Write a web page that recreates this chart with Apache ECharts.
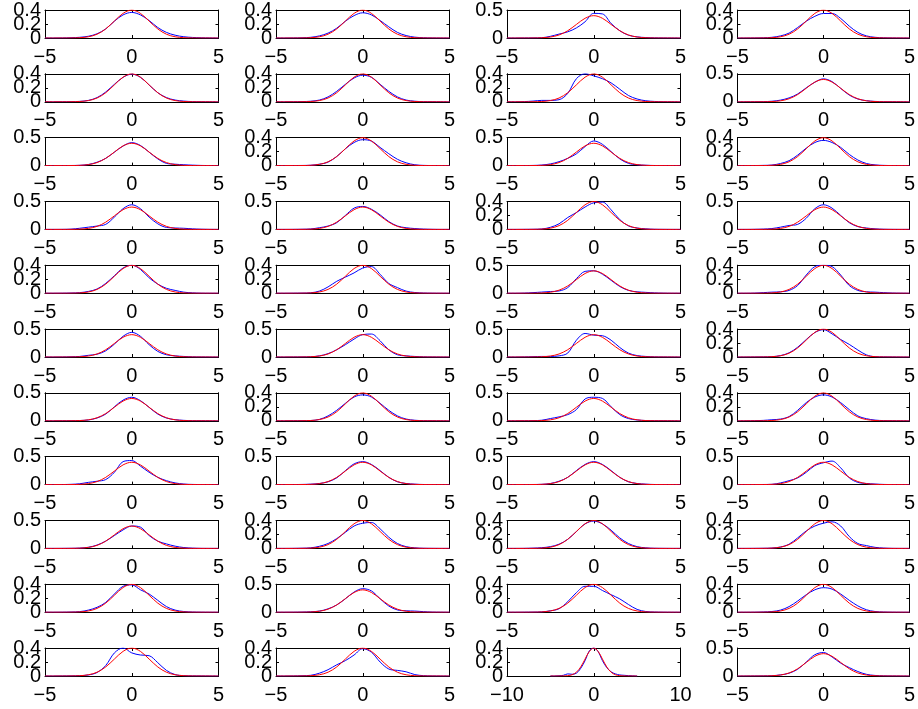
<!DOCTYPE html>
<html><head><meta charset="utf-8">
<script src="https://cdn.jsdelivr.net/npm/echarts@6/dist/echarts.min.js"></script>
<style>html,body{margin:0;padding:0;background:#fff}#c{width:918px;height:709px}</style>
</head><body><div id="c"></div><script>
// evaluation grid for every curve
const xGrid = [-5,-4.5,-4,-3.5,-3,-2.5,-2,-1.5,-1,-0.5,0,0.5,1,1.5,2,2.5,3,3.5,4,4.5,5];
// red reference density (same in each panel)
const redPdf = [0,0,0.0001,0.0009,0.0044,0.0175,0.054,0.1295,0.242,0.352,0.399,0.352,0.242,0.1295,0.054,0.0175,0.0044,0.0009,0.0001,0,0];
// blue estimated densities, one row of panels per array (4 columns)
const blueRow1 = [
 [0,0,0.001,0.004,0.01,0.025,0.06,0.13,0.24,0.33,0.365,0.33,0.25,0.15,0.08,0.04,0.018,0.008,0.003,0.001,0],
 [0,0,0.001,0.003,0.01,0.03,0.07,0.14,0.24,0.32,0.36,0.33,0.25,0.16,0.08,0.035,0.012,0.004,0.001,0,0],
 [0,0,0.001,0.002,0.005,0.03,0.07,0.11,0.18,0.29,0.44,0.43,0.26,0.13,0.05,0.02,0.008,0.003,0.001,0,0],
 [0,0,0.001,0.003,0.01,0.03,0.07,0.15,0.24,0.31,0.35,0.35,0.28,0.17,0.08,0.03,0.01,0.003,0.001,0,0]];
const blueRow2 = [
 [0,0,0.001,0.002,0.006,0.02,0.06,0.14,0.25,0.35,0.395,0.35,0.24,0.13,0.06,0.025,0.01,0.003,0.001,0,0],
 [0,0,0.001,0.003,0.008,0.025,0.07,0.15,0.25,0.34,0.38,0.35,0.25,0.15,0.07,0.025,0.008,0.002,0.001,0,0],
 [0,0,0.003,0.01,0.02,0.02,0.03,0.12,0.33,0.40,0.37,0.33,0.27,0.18,0.09,0.04,0.015,0.005,0.001,0,0],
 [0,0,0.001,0.003,0.01,0.03,0.07,0.14,0.25,0.35,0.41,0.36,0.24,0.12,0.05,0.02,0.007,0.002,0.001,0,0]];
const blueRow3 = [
 [0,0,0.001,0.002,0.005,0.02,0.06,0.13,0.24,0.35,0.41,0.36,0.24,0.12,0.04,0.025,0.015,0.008,0.003,0.001,0],
 [0,0,0.001,0.002,0.005,0.02,0.05,0.13,0.24,0.33,0.37,0.35,0.26,0.17,0.09,0.04,0.012,0.003,0.001,0,0],
 [0,0,0.001,0.003,0.01,0.03,0.07,0.13,0.21,0.34,0.44,0.38,0.25,0.12,0.04,0.015,0.006,0.002,0.001,0,0],
 [0,0,0.001,0.003,0.008,0.03,0.07,0.15,0.25,0.33,0.36,0.33,0.26,0.16,0.08,0.03,0.01,0.003,0.001,0,0]];
const blueRow4 = [
 [0,0,0.001,0.005,0.02,0.04,0.06,0.09,0.22,0.37,0.44,0.37,0.22,0.10,0.035,0.025,0.02,0.01,0.004,0.001,0],
 [0,0,0.001,0.003,0.008,0.03,0.06,0.12,0.25,0.38,0.41,0.36,0.26,0.14,0.06,0.03,0.015,0.006,0.002,0,0],
 [0,0,0.001,0.002,0.006,0.03,0.08,0.17,0.24,0.32,0.38,0.39,0.28,0.14,0.05,0.02,0.008,0.002,0.001,0,0],
 [0,0,0.002,0.006,0.015,0.04,0.07,0.09,0.20,0.37,0.44,0.38,0.25,0.12,0.05,0.025,0.01,0.003,0.001,0,0]];
const blueRow5 = [
 [0,0,0.001,0.003,0.008,0.025,0.06,0.14,0.25,0.36,0.40,0.34,0.22,0.13,0.07,0.04,0.015,0.005,0.001,0,0],
 [0,0,0.001,0.002,0.006,0.03,0.09,0.17,0.23,0.29,0.36,0.38,0.27,0.14,0.08,0.03,0.01,0.003,0.001,0,0],
 [0,0,0.003,0.01,0.02,0.03,0.04,0.10,0.26,0.39,0.40,0.34,0.23,0.12,0.05,0.025,0.015,0.006,0.002,0,0],
 [0,0,0.002,0.008,0.015,0.02,0.04,0.11,0.26,0.38,0.40,0.38,0.26,0.11,0.04,0.02,0.015,0.008,0.003,0.001,0]];
const blueRow6 = [
 [0,0,0.001,0.004,0.01,0.03,0.05,0.11,0.23,0.37,0.44,0.37,0.22,0.10,0.04,0.02,0.01,0.003,0.001,0,0],
 [0,0,0.001,0.002,0.005,0.02,0.06,0.13,0.22,0.32,0.40,0.41,0.29,0.13,0.04,0.02,0.01,0.003,0.001,0,0],
 [0,0,0.002,0.006,0.01,0.01,0.02,0.07,0.30,0.42,0.39,0.38,0.30,0.17,0.07,0.025,0.01,0.003,0.001,0,0],
 [0,0,0.001,0.002,0.005,0.02,0.06,0.14,0.25,0.35,0.39,0.33,0.25,0.18,0.10,0.03,0.005,0.002,0.001,0,0]];
const blueRow7 = [
 [0,0,0.001,0.002,0.005,0.015,0.05,0.12,0.25,0.37,0.42,0.36,0.24,0.12,0.05,0.02,0.008,0.002,0.001,0,0],
 [0,0,0.001,0.002,0.004,0.02,0.07,0.15,0.25,0.34,0.37,0.34,0.25,0.15,0.07,0.025,0.008,0.002,0.001,0,0],
 [0,0,0.001,0.003,0.01,0.04,0.07,0.11,0.20,0.39,0.42,0.40,0.25,0.11,0.04,0.015,0.005,0.002,0.001,0,0],
 [0,0,0.002,0.006,0.015,0.025,0.06,0.15,0.26,0.34,0.37,0.34,0.26,0.16,0.07,0.03,0.01,0.003,0.001,0,0]];
const blueRow8 = [
 [0,0,0.001,0.005,0.015,0.04,0.06,0.09,0.22,0.41,0.43,0.33,0.22,0.13,0.07,0.03,0.01,0.003,0.001,0,0],
 [0,0,0.001,0.003,0.008,0.02,0.05,0.12,0.25,0.37,0.41,0.36,0.25,0.13,0.05,0.02,0.008,0.002,0.001,0,0],
 [0,0,0.001,0.002,0.005,0.02,0.06,0.13,0.25,0.36,0.41,0.36,0.25,0.13,0.05,0.02,0.008,0.002,0.001,0,0],
 [0,0,0.001,0.002,0.005,0.03,0.07,0.12,0.22,0.34,0.39,0.42,0.30,0.12,0.04,0.02,0.01,0.003,0.001,0,0]];
const blueRow9 = [
 [0,0,0.001,0.002,0.006,0.02,0.06,0.13,0.23,0.33,0.40,0.38,0.23,0.13,0.08,0.04,0.015,0.005,0.001,0,0],
 [0,0,0.001,0.003,0.008,0.03,0.07,0.14,0.23,0.32,0.36,0.37,0.28,0.16,0.07,0.025,0.008,0.002,0.001,0,0],
 [0,0,0.001,0.004,0.01,0.025,0.06,0.13,0.24,0.35,0.39,0.35,0.26,0.15,0.07,0.025,0.008,0.002,0.001,0,0],
 [0,0,0.001,0.002,0.005,0.02,0.06,0.15,0.25,0.32,0.36,0.38,0.32,0.17,0.07,0.04,0.015,0.005,0.001,0,0]];
const blueRow10 = [
 [0,0,0.001,0.003,0.008,0.03,0.07,0.14,0.26,0.37,0.39,0.32,0.26,0.17,0.08,0.03,0.01,0.003,0.001,0,0],
 [0,0,0.001,0.003,0.008,0.02,0.06,0.13,0.24,0.36,0.42,0.38,0.24,0.11,0.04,0.025,0.02,0.01,0.003,0.001,0],
 [0,0,0.001,0.002,0.005,0.02,0.05,0.15,0.28,0.37,0.37,0.31,0.25,0.19,0.11,0.04,0.01,0.003,0.001,0,0],
 [0,0,0.001,0.004,0.01,0.03,0.08,0.16,0.25,0.32,0.35,0.33,0.26,0.17,0.09,0.035,0.01,0.003,0.001,0,0]];
const blueRow11 = [
 [0,0,0.001,0.002,0.005,0.015,0.05,0.15,0.33,0.40,0.33,0.30,0.29,0.19,0.08,0.02,0.005,0.002,0.001,0,0],
 [0,0,0.001,0.004,0.01,0.04,0.09,0.16,0.22,0.30,0.39,0.34,0.20,0.10,0.08,0.06,0.02,0.005,0.001,0,0],
 [0,0,0.003,0.01,0.03,0.025,0.04,0.11,0.22,0.36,0.40,0.35,0.22,0.12,0.06,0.03,0.015,0.01,0.005,0.002,0],
 [0,0,0.001,0.002,0.005,0.02,0.05,0.12,0.25,0.38,0.42,0.34,0.23,0.15,0.08,0.03,0.01,0.003,0.001,0,0]];
// y-axis upper limit of each panel, as shown by its tick labels
const yMaxByRow = [
 [0.4,0.4,0.5,0.4],[0.4,0.4,0.4,0.5],[0.5,0.4,0.5,0.4],[0.5,0.5,0.4,0.5],
 [0.4,0.4,0.5,0.4],[0.5,0.5,0.5,0.4],[0.5,0.4,0.5,0.4],[0.5,0.5,0.5,0.5],
 [0.5,0.4,0.4,0.4],[0.4,0.5,0.4,0.4],[0.4,0.4,0.4,0.5]];
// x-axis half range of each panel (ticks at -L, 0, L)
const xLimByRow = [
 [5,5,5,5],[5,5,5,5],[5,5,5,5],[5,5,5,5],[5,5,5,5],[5,5,5,5],
 [5,5,5,5],[5,5,5,5],[5,5,5,5],[5,5,5,5],[5,5,10,5]];
const blueRows = [blueRow1,blueRow2,blueRow3,blueRow4,blueRow5,blueRow6,blueRow7,blueRow8,blueRow9,blueRow10,blueRow11];

const FONT = '"Liberation Sans", Arial, Helvetica, sans-serif';
const colLeft = [45, 276, 507, 737.5];
const W = 173.5, H = 28, top0 = 10, rowStep = 63.8;
const grids = [], xAxes = [], yAxes = [], series = [];
const minus = v => String(v).replace('-', '\u2212');
const fmt = v => String(+(+v).toFixed(2));

for (let r = 0; r < 11; r++) {
  for (let c = 0; c < 4; c++) {
    const k = r * 4 + c;
    const L = xLimByRow[r][c], ym = yMaxByRow[r][c];
    grids.push({left: colLeft[c], top: top0 + r * rowStep, width: W, height: H});
    const line = {show: true, onZero: false, lineStyle: {color: '#000', width: 1}};
    const tick = {show: true, inside: true, length: 3, lineStyle: {color: '#000', width: 1}};
    const lab = {fontSize: 20, color: '#000', fontFamily: FONT, showMinLabel: true, showMaxLabel: true, hideOverlap: false};
    xAxes.push({gridIndex: k, type: 'value', position: 'bottom', min: -L, max: L, interval: L,
      axisLine: line, axisTick: tick, splitLine: {show: false},
      axisLabel: Object.assign({}, lab, {margin: 9, formatter: minus})});
    xAxes.push({gridIndex: k, type: 'value', position: 'top', min: -L, max: L, interval: L,
      axisLine: line, axisTick: tick, splitLine: {show: false}, axisLabel: {show: false}});
    const yi = ym === 0.4 ? 0.2 : 0.5;
    const mid = ym === 0.4 ? 0.2 : null;
    // main left axis: min/max labels
    yAxes.push({gridIndex: k, type: 'value', position: 'left', min: 0, max: ym, interval: yi,
      axisLine: line, axisTick: tick, splitLine: {show: false},
      axisLabel: Object.assign({}, lab, {margin: 4, formatter: v => (mid !== null && Math.abs(v - mid) < 1e-9) ? '' : fmt(v)})});
    // mirrored right axis
    yAxes.push({gridIndex: k, type: 'value', position: 'right', min: 0, max: ym, interval: yi,
      axisLine: line, axisTick: tick, splitLine: {show: false}, axisLabel: {show: false}});
    // companion left axis carrying the middle label (kept apart so it is not hidden as overlapping)
    yAxes.push({gridIndex: k, type: 'value', position: 'left', min: 0, max: ym, interval: yi,
      axisLine: {show: false}, axisTick: {show: false}, splitLine: {show: false},
      axisLabel: Object.assign({}, lab, {show: mid !== null, showMinLabel: false, showMaxLabel: false, margin: 4,
        formatter: v => (mid !== null && Math.abs(v - mid) < 1e-9) ? fmt(v) : ''})});
    const blue = blueRows[r][c];
    series.push({type: 'line', xAxisIndex: 2 * k, yAxisIndex: 3 * k, showSymbol: false, smooth: 0.35,
      lineStyle: {color: '#0000ff', width: 1}, data: xGrid.map((x, i) => [x, blue[i]]), silent: true});
    series.push({type: 'line', xAxisIndex: 2 * k, yAxisIndex: 3 * k, showSymbol: false, smooth: 0.35,
      lineStyle: {color: '#ff0000', width: 1}, data: xGrid.map((x, i) => [x, redPdf[i]]), silent: true});
  }
}
const chart = echarts.init(document.getElementById('c'));
chart.setOption({animation: false, backgroundColor: '#fff', grid: grids, xAxis: xAxes, yAxis: yAxes, series: series});
</script></body></html>
